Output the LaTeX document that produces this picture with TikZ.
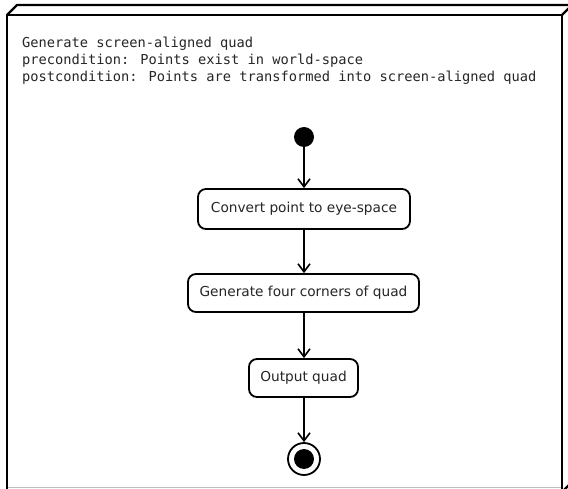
\documentclass[tikz,border=0pt]{standalone}
\usepackage{fontspec}
\setmainfont{DejaVu Sans}
\newfontfamily\monofont{DejaVu Sans Mono}
\usetikzlibrary{arrows.meta}
\tikzset{
  action/.style={draw, line width=1.8pt, rounded corners=8pt, fill=white, inner sep=0pt,
    font=\fontsize{13.7}{16}\selectfont, text=black!85},
  flow/.style={line width=1.6pt, -{Straight Barb[length=8pt,width=12pt,line width=1.6pt]}},
  header/.style={anchor=base west, inner sep=0pt, font=\monofont\fontsize{13.7}{16}\selectfont, text=black!85},
  frame/.style={line width=2.4pt, line join=miter}
}
\begin{document}
\begin{tikzpicture}[x=1pt,y=-1pt]
\useasboundingbox (0,0) rectangle (568,489);
\fill[white] (0,0) rectangle (568,489);
\clip (0,0) rectangle (568,489);
% container (UML node box)
\draw[frame] (7,495) -- (7,15) -- (562,15) -- (562,495);
\draw[frame] (7,15) -- (17,5) -- (580,5);
\draw[frame] (562,15) -- (572,5);
\draw[frame] (562,492) -- (572,482);
\draw[black!25, line width=1pt] (8,487.5) -- (561,487.5);
% header text
\node[header] (h1) at (22,48) {Generate screen-aligned quad};
\node[header] (h2) at (22,65) {precondition: Points exist in world-space};
\node[header] (h3) at (22,82) {postcondition: Points are transformed into screen-aligned quad};
% flow
\node[circle, fill=black, minimum size=20pt, inner sep=0pt] (start) at (304,137) {};
\node[action, minimum width=212pt, minimum height=40pt] (a1) at (304,209) {Convert point to eye-space};
\node[action, minimum width=231pt, minimum height=38pt] (a2) at (303.5,293) {Generate four corners of quad};
\node[action, minimum width=109pt, minimum height=38pt] (a3) at (303.5,378) {Output quad};
\node[circle, draw, line width=1.8pt, minimum size=32pt, inner sep=0pt] (end) at (304,459) {};
\node[circle, fill=black, minimum size=20pt, inner sep=0pt] (endin) at (304,459) {};
\draw[flow] (start) -- (a1);
\draw[flow] (a1.south -| start) -- (a2.north -| start);
\draw[flow] (a2.south -| start) -- (a3.north -| start);
\draw[flow] (a3.south -| start) -- (end);
\end{tikzpicture}
\end{document}
